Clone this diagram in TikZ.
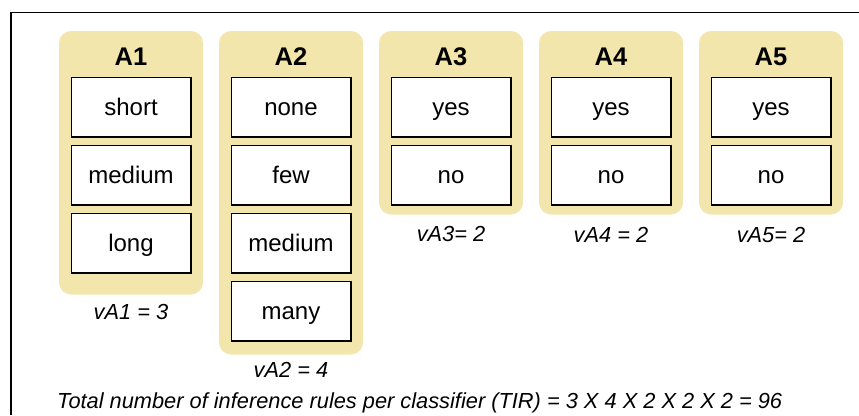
\documentclass[tikz,border=0pt]{standalone}
\usepackage{fontspec}
\setmainfont{Liberation Sans}
\usetikzlibrary{positioning}
\definecolor{attrfill}{RGB}{243,230,172}

\begin{document}
\begin{tikzpicture}[x=1pt, y=1pt, attr/.style={fill=attrfill,rounded corners=12pt,
	minimum width=144pt,inner sep=0pt}, val/.style={draw=black,line width=1.5pt,fill=white,
	minimum width=119.5pt,minimum height=59.5pt,inner sep=0pt,text height=18pt,text depth=2pt,
	font=\fontsize{24}{28}\selectfont},
	ttl/.style={font=\bfseries\fontsize{25.5}{30}\selectfont,inner sep=0pt},
	cnt/.style={font=\itshape\fontsize{21.8}{26}\selectfont,inner sep=0pt}]
\useasboundingbox (0,0) rectangle (859,-415);
% frame
\coordinate (fb) at (11,-415);
\coordinate (tl) at (11,-12.5);
\coordinate (fr) at (859,-12.5);
\draw[line width=1.6pt] (fb) -- (tl) -- (fr);
% attribute containers
\node[attr, minimum height=263.5pt] (c1) at (131,-162.75) {};
\node[attr, minimum height=323.5pt] (c2) at (291,-192.75) {};
\node[attr, minimum height=183.5pt] (c3) at (451,-122.75) {};
\node[attr, minimum height=183.5pt] (c4) at (611,-122.75) {};
\node[attr, minimum height=183.5pt] (c5) at (771,-122.75) {};
% titles
\node[ttl] (t1) at (131,-57) {A1};
\node[ttl] (t2) at (291,-57) {A2};
\node[ttl] (t3) at (451,-57) {A3};
\node[ttl] (t4) at (611,-57) {A4};
\node[ttl] (t5) at (771,-57) {A5};
% values
\node[val] (a11) at (131,-107) {short};
\node[val, below=7pt of a11] (a12) {medium};
\node[val, below=7pt of a12] (a13) {long};
\node[val] (a21) at (291,-107) {none};
\node[val, below=7pt of a21] (a22) {few};
\node[val, below=7pt of a22] (a23) {medium};
\node[val, below=7pt of a23] (a24) {many};
\node[val] (a31) at (451,-107) {yes};
\node[val, below=7pt of a31] (a32) {no};
\node[val] (a41) at (611,-107) {yes};
\node[val, below=7pt of a41] (a42) {no};
\node[val] (a51) at (771,-107) {yes};
\node[val, below=7pt of a51] (a52) {no};
% counts
\node[cnt] (v1) at (131,-311.5) {vA1 = 3};
\node[cnt] (v2) at (291,-370) {vA2 = 4};
\node[cnt] (v3) at (451,-234) {vA3= 2};
\node[cnt] (v4) at (611,-235) {vA4 = 2};
\node[cnt] (v5) at (771,-235) {vA5= 2};
\node[cnt, anchor=base west] (tir) at (57,-408)
	{Total number of inference rules per classifier (TIR) = 3 X 4 X 2 X 2 X 2 = 96};
\end{tikzpicture}
\end{document}
